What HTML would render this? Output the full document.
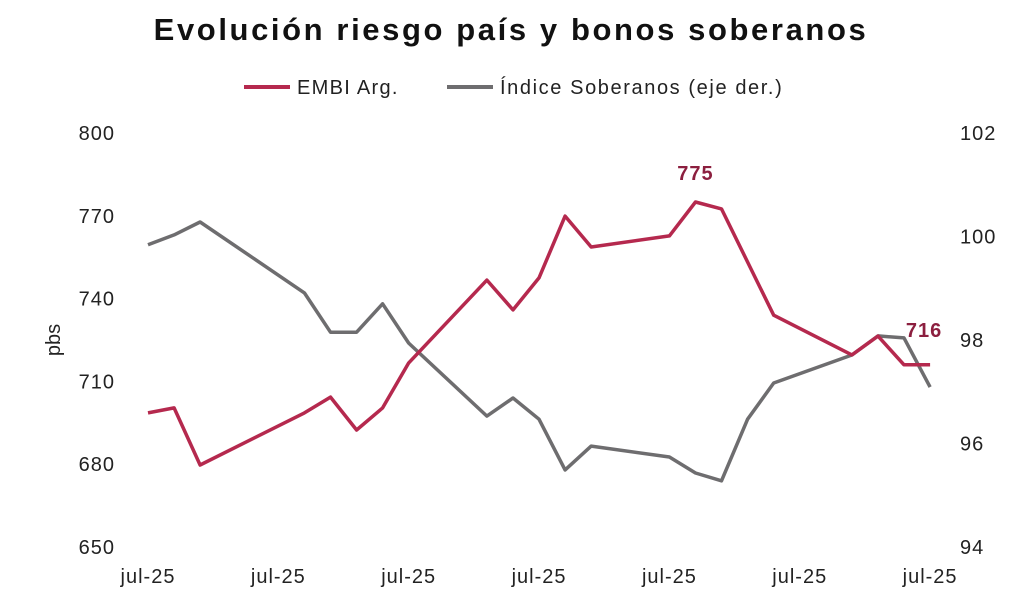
<!DOCTYPE html>
<html><head><meta charset="utf-8"><style>
body{margin:0;background:#fff;width:1033px;height:607px;overflow:hidden;font-family:"Liberation Sans",sans-serif}
</style></head><body>
<svg id="c" width="1033" height="607">
<text x="511" y="40" text-anchor="middle" font-size="31" font-weight="bold" letter-spacing="2.6" fill="#111">Evolución riesgo país y bonos soberanos</text>
<g>
<line x1="244" y1="87" x2="290" y2="87" stroke="#b5294e" stroke-width="4"/>
<text x="297" y="94" font-size="20" letter-spacing="1.3" fill="#222">EMBI Arg.</text>
<line x1="447" y1="87" x2="493" y2="87" stroke="#6e6d6f" stroke-width="4"/>
<text x="500" y="94" font-size="20" letter-spacing="1.6" fill="#222">Índice Soberanos (eje der.)</text>
</g>
<text transform="translate(60,340) rotate(-90)" text-anchor="middle" font-size="20" fill="#222">pbs</text>
<g id="axes"></g>
<g id="marks"></g>
</svg>
<script>
const idx=[0,1,2,6,7,8,9,10,13,14,15,16,17,20,21,22,23,24,27,28,29,30];
const embi=[698.6,700.4,679.7,698.6,704.3,692.4,700.4,716.7,746.7,735.9,747.5,769.9,758.7,762.7,775,772.5,null,734,719.6,726.4,716,716];
const sob=[99.84,100.03,100.28,98.91,98.15,98.15,98.7,97.94,96.53,96.88,96.47,95.49,95.95,95.74,95.43,95.28,96.47,97.17,97.71,98.08,98.04,97.09];
const leftTicks=[650,680,710,740,770,800];
const rightTicks=[94,96,98,100,102];
const xTickIdx=[0,5,10,15,20,25,30];
const xLabel="jul-25";
const NS="http://www.w3.org/2000/svg";
const X=i=>148+i*26.07;
const YL=v=>547-(v-650)/150*414;
const YR=v=>547-(v-94)/8*414;
function mk(t,a,p){const e=document.createElementNS(NS,t);for(const k in a)e.setAttribute(k,a[k]);p.appendChild(e);return e;}
const ax=document.getElementById('axes'),mg=document.getElementById('marks');
leftTicks.forEach(v=>{const t=mk('text',{x:115,y:YL(v)+7,'text-anchor':'end','font-size':20,'letter-spacing':1,fill:'#222'},ax);t.textContent=v;

});
rightTicks.forEach(v=>{const t=mk('text',{x:960,y:YR(v)+7,'font-size':20,'letter-spacing':1,fill:'#222'},ax);t.textContent=v;

});
xTickIdx.forEach(i=>{const t=mk('text',{x:X(i),y:583,'text-anchor':'middle','font-size':20,'letter-spacing':1,fill:'#222'},ax);t.textContent=xLabel;

});
function line(vals,Y,col,name){let d='';vals.forEach((v,k)=>{if(v==null)return;d+=(d?'L':'M')+X(idx[k]).toFixed(1)+','+Y(v).toFixed(1);});
const p=mk('path',{d:d,fill:'none',stroke:col,'stroke-width':3.5,'stroke-linejoin':'round'},mg);

}
line(sob,YR,'#6e6d6f','soberanos-line');
line(embi,YL,'#b5294e','embi-line');
let mi=0;embi.forEach((v,k)=>{if(v!=null&&v>embi[mi])mi=k;});
const l1=mk('text',{x:X(idx[mi]),y:YL(embi[mi])-22,'text-anchor':'middle','font-size':20,'font-weight':'bold','letter-spacing':1,fill:'#8c1f3f'},mg);l1.textContent=Math.round(embi[mi]);


const last=embi.length-1;
const l2=mk('text',{x:X(idx[last])-6,y:YL(embi[last])-28,'text-anchor':'middle','font-size':20,'font-weight':'bold','letter-spacing':1,fill:'#8c1f3f'},mg);l2.textContent=Math.round(embi[last]);


</script>
</body></html>
